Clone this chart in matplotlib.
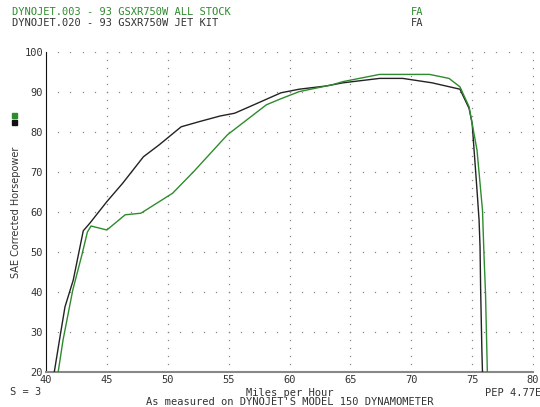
import numpy as np
import matplotlib
matplotlib.use("Agg")
from matplotlib import pyplot as plt

# DYNOJET.003 - all stock (green)
stock_mph = [41.0, 41.4, 42.2, 42.95, 43.4, 43.7, 45.0, 46.5, 47.8, 50.4, 52.1, 54.9, 58.1,
             59.2, 60.8, 63.5, 64.4, 67.4, 71.5, 73.1, 74.0, 74.75, 75.4, 75.7, 75.85,
             75.98, 76.1, 76.17, 76.25]
stock_hp = [20.0, 28.0, 40.5, 49.3, 55.0, 56.5, 55.5, 59.3, 59.7, 64.7, 70.0, 79.3, 86.8,
            88.2, 90.1, 91.8, 92.6, 94.4, 94.4, 93.4, 91.3, 86.3, 75.5, 65.5, 60.5,
            48.8, 39.7, 30.5, 20.0]

# DYNOJET.020 - jet kit (black)
jet_mph = [40.68, 41.15, 41.56, 42.24, 43.06, 43.6, 45.0, 46.3, 48.0, 49.3, 51.1, 52.6,
           54.3, 55.5, 56.7, 59.3, 60.8, 63.0, 64.4, 67.4, 69.3, 71.7, 74.0, 74.75,
           75.0, 75.4, 75.57, 75.65, 75.7, 75.8, 75.85]
jet_hp = [20.0, 28.8, 36.3, 43.0, 55.3, 57.2, 62.6, 67.2, 73.8, 76.8, 81.3, 82.6,
          84.0, 84.7, 86.3, 89.8, 90.7, 91.5, 92.3, 93.4, 93.4, 92.3, 90.7, 85.9,
          82.2, 65.5, 58.0, 51.3, 40.5, 25.5, 20.0]

x_ticks = [40, 45, 50, 55, 60, 65, 70, 75, 80]
y_ticks = [20, 30, 40, 50, 60, 70, 80, 90, 100]

green = "#2e8b2e"
dark = "#222222"
txt = "#333333"
mono = "DejaVu Sans Mono"

fig = plt.figure(figsize=(5.4, 4.07), dpi=100)
ax = fig.add_axes([46/540, 35/407, 487/540, 320/407])

# dotted grid made of small dots
for gx in x_ticks[1:]:
    ys = np.arange(22, 100.1, 2)
    ax.plot([gx]*len(ys), ys, ls="none", marker="s", ms=0.9, color="#888888", mew=0)
for gy in y_ticks[1:]:
    xs = np.arange(41, 80.1, 1)
    ax.plot(xs, [gy]*len(xs), ls="none", marker="s", ms=0.9, color="#888888", mew=0)

ax.plot(jet_mph, jet_hp, color=dark, lw=1.0, zorder=3)
ax.plot(stock_mph, stock_hp, color=green, lw=1.0, zorder=3)

ax.set_xlim(40, 80)
ax.set_ylim(20, 100)
ax.set_xticks(x_ticks)
ax.set_yticks(y_ticks)
ax.tick_params(length=0, labelsize=7.5, labelcolor=txt, pad=2)
for lab in ax.get_xticklabels() + ax.get_yticklabels():
    lab.set_family(mono)
ax.spines["top"].set_visible(False)
ax.spines["right"].set_visible(False)
ax.spines["left"].set_color("#111111")
ax.spines["bottom"].set_color("#888888")
ax.spines["bottom"].set_linewidth(1.5)

ax.set_ylabel("SAE Corrected Horsepower", family="DejaVu Sans", fontsize=7, color=txt)
ax.yaxis.set_label_coords(-0.052, 0.5)

def t(x, y, s, **kw):
    kw.setdefault("color", txt)
    fig.text(x/540, 1 - y/407, s, family=mono, fontsize=7.5, va="center", **kw)

t(12, 12, "DYNOJET.003 - 93 GSXR750W ALL STOCK", color=green)
t(12, 23, "DYNOJET.020 - 93 GSXR750W JET KIT")
t(411, 12, "FA", color=green)
t(411, 23, "FA")
t(290, 393, "Miles per Hour", ha="center")
t(290, 402, "As measured on DYNOJET'S MODEL 150 DYNAMOMETER", ha="center")
t(10, 392, "S = 3")
t(485, 393, "PEP 4.77E")

# legend swatches
fig.patches.append(plt.Rectangle((12/540, 1-118/407), 5/540, 5/407, color=green,
                                 transform=fig.transFigure, figure=fig))
fig.patches.append(plt.Rectangle((12/540, 1-125/407), 5/540, 5/407, color="#111111",
                                 transform=fig.transFigure, figure=fig))

fig.savefig("out.png", dpi=100, facecolor="white")
